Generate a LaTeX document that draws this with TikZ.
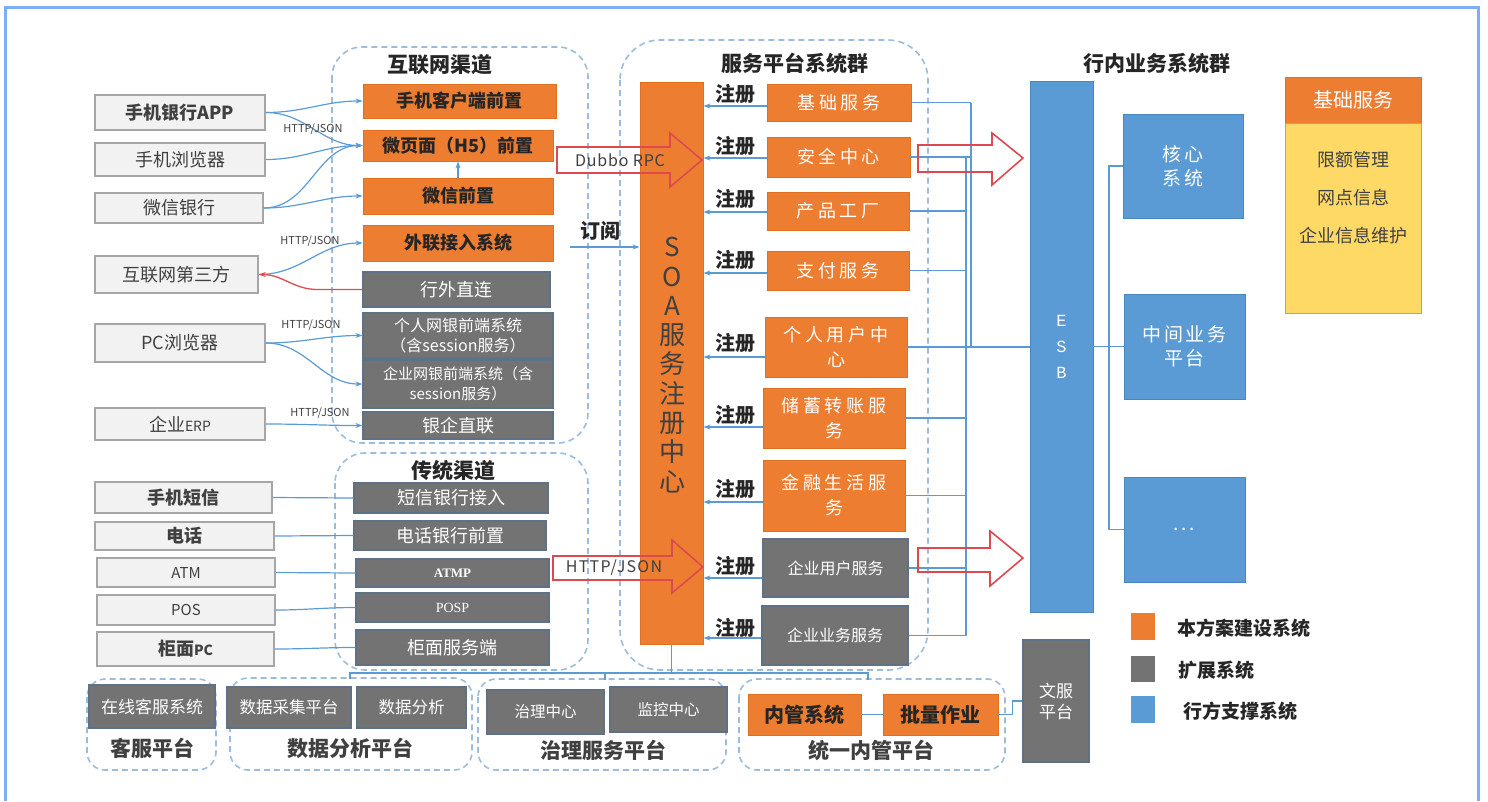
\documentclass[tikz,border=0pt]{standalone}
\usepackage{fontspec}
\setmainfont{Noto Sans CJK SC}
\newfontfamily\serifA{Liberation Serif}
\newfontfamily\monoA{Liberation Mono}
\usetikzlibrary{arrows.meta}
\definecolor{cOr}{HTML}{ED7D31}
\definecolor{cOrB}{HTML}{E0701F}
\definecolor{cGr}{HTML}{737373}
\definecolor{cGrB}{HTML}{5E7185}
\definecolor{cBl}{HTML}{5B9BD5}
\definecolor{cBlB}{HTML}{4A87C0}
\definecolor{cYe}{HTML}{FFD966}
\definecolor{cCli}{HTML}{F2F2F2}
\definecolor{cCliB}{HTML}{A6A6A6}
\definecolor{cDash}{HTML}{9CBCDB}
\definecolor{cLn}{HTML}{5B9BD5}
\definecolor{cRed}{HTML}{DC4A50}
\definecolor{cFrame}{HTML}{7DAEF7}
\definecolor{cDark}{HTML}{262626}
\definecolor{cTxt}{HTML}{404040}
\tikzset{
  box/.style={inner sep=0pt, align=center},
  client/.style={box, draw=cCliB, fill=cCli, line width=1.5pt, text=cTxt, font=\fontsize{18}{21}\selectfont},
  orgA/.style={box, fill=cOr, draw=cOrB, line width=0.8pt, text=cDark, font=\bfseries\fontsize{18}{21}\selectfont},
  orgS/.style={box, fill=cOr, draw=cOrB, line width=0.8pt, text=white, font=\fontsize{18}{25}\selectfont\addfontfeature{LetterSpace=20}},
  gry/.style={box, fill=cGr, draw=cGrB, line width=1.2pt, text=white, font=\fontsize{18}{21}\selectfont},
  blu/.style={box, fill=cBl, draw=cBlB, line width=0.8pt, text=white, font=\fontsize{19}{24}\selectfont\addfontfeature{LetterSpace=15}},
  cont/.style={draw=cDash, line width=1.6pt, dash pattern=on 6pt off 4pt},
  conn/.style={draw=cLn, line width=1.2pt, -{Stealth[length=7pt,width=5pt]}},
  ln/.style={draw=cLn, line width=1.2pt},
  bigarr/.style={draw=cRed, line width=1.6pt, line join=miter},
  lab/.style={font=\fontsize{11}{13}\selectfont, text=cTxt, inner sep=0pt},
  zc/.style={font=\bfseries\fontsize{20}{22}\selectfont, text=cDark, inner sep=0pt},
  ttl/.style={font=\bfseries\fontsize{21}{24}\selectfont, text=cDark, inner sep=0pt},
  ptl/.style={font=\bfseries\fontsize{21}{24}\selectfont, text=cTxt, inner sep=0pt},
}
% #1 extra options, #2 style, #3 name, #4..#7 corners (x1,y1,x2,y2), #8 text
\newcommand\mybox[8][]{%
  \pgfmathsetmacro\mybw{#6-#4}\pgfmathsetmacro\mybh{#7-#5}%
  \node[#2, minimum width=\mybw pt, minimum height=\mybh pt, #1] (#3) at ({(#4+#6)/2},{(#5+#7)/2}) {#8};}
\begin{document}
\begin{tikzpicture}[x=1pt,y=-1pt]
\useasboundingbox (0,0) rectangle (1488,801);
% outer frame
\draw[cFrame, line width=3pt] (5,801) -- (5,7) -- (1478,7) -- (1478,801);

% containers
\draw[cont, rounded corners=30pt] (332,47) rectangle (588,443);
\draw[cont, rounded corners=30pt] (335,453) rectangle (588,670);
\draw[cont, rounded corners=40pt] (620,40) rectangle (928,670);
\draw[cont, rounded corners=18pt] (87,679) rectangle (216,770);
\draw[cont, rounded corners=18pt] (230,678) rectangle (472,770);
\draw[cont, rounded corners=18pt] (478,679) rectangle (726,770);
\draw[cont, rounded corners=18pt] (739,679) rectangle (1005,770);

% titles
\node[ttl] (tInet) at (440,65) {互联网渠道};
\node[ttl] (tSvc) at (795,63) {服务平台系统群};
\node[ttl] (tBank) at (1157,63) {行内业务系统群};
\node[ttl] (tTrad) at (453,470) {传统渠道};

% clients
\mybox[font=\bfseries\fontsize{18}{21}\selectfont]{client}{c1}{95}{95}{265}{130}{手机银行APP}
\mybox{client}{c2}{95}{143}{265}{176}{手机浏览器}
\mybox{client}{c3}{95}{193}{263}{223}{微信银行}
\mybox{client}{c4}{95}{256}{258}{293}{互联网第三方}
\mybox{client}{c5}{95}{324}{265}{362}{PC浏览器}
\mybox{client}{c6}{95}{408}{265}{440}{企业{\fontsize{14}{16}\selectfont ERP}}
\mybox[font=\bfseries\fontsize{18}{21}\selectfont]{client}{t1}{95}{482}{272}{513}{手机短信}
\mybox[font=\bfseries\fontsize{18}{21}\selectfont]{client}{t2}{95}{522}{274}{550}{电话}
\mybox[font=\fontsize{15}{18}\selectfont]{client}{t3}{97}{558}{275}{587}{ATM}
\mybox[font=\fontsize{15}{18}\selectfont]{client}{t4}{97}{595}{275}{625}{POS}
\mybox[font=\bfseries\fontsize{18}{21}\selectfont]{client}{t5}{97}{632}{274}{666}{柜面{\fontsize{14}{16}\selectfont PC}}

% internet channel boxes
\mybox{orgA}{i1}{363}{84}{556}{118}{手机客户端前置}
\mybox{orgA}{i2}{363}{130}{553}{161}{微页面（H5）前置}
\mybox{orgA}{i3}{363}{178}{553}{214}{微信前置}
\mybox{orgA}{i4}{363}{225}{553}{261}{外联接入系统}
\mybox{gry}{g1}{363}{272}{550}{307}{行外直连}
\mybox[font=\fontsize{16}{20}\selectfont]{gry}{g2}{363}{313}{553}{358}{个人网银前端系统\\（含session服务）}
\mybox[font=\fontsize{15}{20}\selectfont]{gry}{g3}{363}{360}{553}{408}{企业网银前端系统（含\\session服务）}
\mybox{gry}{g4}{363}{412}{553}{439}{银企直联}

% traditional channel boxes
\mybox{gry}{r1}{354}{483}{548}{513}{短信银行接入}
\mybox{gry}{r2}{354}{521}{546}{550}{电话银行前置}
\mybox[font=\serifA\bfseries\fontsize{13}{15}\selectfont]{gry}{r3}{356}{559}{549}{587}{ATMP}
\mybox[font=\serifA\fontsize{14}{16}\selectfont]{gry}{r4}{356}{593}{549}{622}{POSP}
\mybox{gry}{r5}{356}{630}{549}{665}{柜面服务端}

% SOA
\mybox[fill=cOr, draw=cOrB, line width=0.8pt]{box}{soa}{640}{82}{703}{644}{}
\node[font=\fontsize{26}{29.3}\selectfont, align=center, text=cTxt, inner sep=0pt] (soaT) at (672,365) {S\\O\\A\\服\\务\\注\\册\\中\\心};

% services
\mybox{orgS}{s1}{767}{84}{911}{121}{基础服务}
\mybox{orgS}{s2}{767}{137}{910}{177}{安全中心}
\mybox{orgS}{s3}{767}{192}{909}{230}{产品工厂}
\mybox{orgS}{s4}{767}{251}{909}{290}{支付服务}
\mybox{orgS}{s5}{765}{317}{907}{377}{个人用户中\\心}
\mybox{orgS}{s6}{763}{388}{905}{448}{储蓄转账服\\务}
\mybox{orgS}{s7}{763}{460}{905}{531}{金融生活服\\务}
\mybox[font=\fontsize{16}{19}\selectfont]{gry}{s8}{763}{539}{908}{597}{企业用户服务}
\mybox[font=\fontsize{16}{19}\selectfont]{gry}{s9}{762}{606}{908}{665}{企业业务服务}

% register arrows
\draw[conn] (s1.west |- 0,106) -- (soa.east |- 0,106);
\draw[conn] (s2.west |- 0,158) -- (soa.east |- 0,158);
\draw[conn] (s3.west |- 0,212) -- (soa.east |- 0,212);
\draw[conn] (s4.west |- 0,273) -- (soa.east |- 0,273);
\draw[conn] (s5.west |- 0,357) -- (soa.east |- 0,357);
\draw[conn] (s6.west |- 0,427) -- (soa.east |- 0,427);
\draw[conn] (s7.west |- 0,502) -- (soa.east |- 0,502);
\draw[conn] (s8.west |- 0,578) -- (soa.east |- 0,578);
\draw[conn] (s9.west |- 0,638) -- (soa.east |- 0,638);
\node[zc] (z1) at (735,94) {注册};
\node[zc] (z2) at (735,146) {注册};
\node[zc] (z3) at (735,199) {注册};
\node[zc] (z4) at (735,260) {注册};
\node[zc] (z5) at (735,343) {注册};
\node[zc] (z6) at (735,415) {注册};
\node[zc] (z7) at (735,489) {注册};
\node[zc] (z8) at (735,566) {注册};
\node[zc] (z9) at (735,628) {注册};

% subscribe
\node[zc] (sub) at (600,231) {订阅};
\coordinate (subA) at (570,247);
\draw[conn] (subA) -- (subA -| soa.west);

% ESB and bank systems
\mybox[font=\monoA\fontsize{17}{26}\selectfont]{blu}{esb}{1030}{81}{1093}{612}{E\\S\\B}
\mybox{blu}{k1}{1123}{114}{1243}{218}{核心\\系统}
\mybox{blu}{k2}{1124}{294}{1245}{399}{中间业务\\平台}
\mybox{blu}{k3}{1124}{477}{1245}{582}{...}

% service bus lines
\coordinate (busA) at (971,0);
\coordinate (busB) at (966,0);
\draw[ln] (s1.east) -- (s1.east -| busA);
\draw[ln] (s2.east) -- (s2.east -| busA);
\draw[ln] (s3.east) -- (s3.east -| busB);
\draw[ln] (s4.east) -- (s4.east -| busB);
\draw[ln] (s5.east) -- (s5.east -| esb.west);
\draw[ln] (s6.east) -- (s6.east -| busB);
\draw[ln] (s7.east) -- (s7.east -| busB);
\draw[ln] (s8.east) -- (s8.east -| busB);
\draw[ln] (s9.east) -- (s9.east -| busB);
\draw[ln] (busA |- s1.east) -- (busA |- s5.east);
\draw[ln] (busB |- s2.east) -- (busB |- s9.east);

% ESB to bank systems
\coordinate (busC) at (1109,0);
\draw[ln] (esb.east |- k2.west) -- (k2.west);
\draw[ln] (k1.west) -- (busC |- k1.west) -- (busC |- k3.west) -- (k3.west);

% basic service panel
\mybox[fill=cOr, draw=cOrB, line width=0.8pt, text=white, font=\fontsize{20}{24}\selectfont]{box}{jc}{1285}{77}{1421}{123}{基础服务}
\mybox[fill=cYe, draw=cCliB, line width=1pt]{box}{jcb}{1285}{123}{1421}{313}{}
\node[font=\fontsize{18}{21}\selectfont, text=cTxt, inner sep=0pt] (jc1) at (1353,160) {限额管理};
\node[font=\fontsize{18}{21}\selectfont, text=cTxt, inner sep=0pt] (jc2) at (1353,198) {网点信息};
\node[font=\fontsize{18}{21}\selectfont, text=cTxt, inner sep=0pt] (jc3) at (1353,236) {企业信息维护};

% legend
\mybox[fill=cOr]{box}{lg1}{1131}{613}{1155}{640}{}
\mybox[fill=cGr]{box}{lg2}{1131}{656}{1155}{682}{}
\mybox[fill=cBl]{box}{lg3}{1131}{696}{1155}{723}{}
\node[font=\bfseries\fontsize{19}{22}\selectfont, text=cDark, inner sep=0pt, anchor=west] (lt1) at (1177,628) {本方案建设系统};
\node[font=\bfseries\fontsize{19}{22}\selectfont, text=cDark, inner sep=0pt, anchor=west] (lt2) at (1178,670) {扩展系统};
\node[font=\bfseries\fontsize{19}{22}\selectfont, text=cDark, inner sep=0pt, anchor=west] (lt3) at (1183,711) {行方支撑系统};

% 文服平台
\mybox[font=\fontsize{17}{21}\selectfont]{gry}{wf}{1023}{640}{1089}{762}{文服\\平台}

% bottom platforms
\mybox[font=\fontsize{17}{20}\selectfont]{gry}{b1}{89}{685}{215}{728}{在线客服系统}
\mybox[font=\fontsize{16.5}{20}\selectfont]{gry}{b2}{227}{687}{351}{728}{数据采集平台}
\mybox[font=\fontsize{16.5}{20}\selectfont]{gry}{b3}{357}{687}{466}{728}{数据分析}
\mybox[font=\fontsize{15.5}{19}\selectfont]{gry}{b4}{487}{690}{604}{734}{治理中心}
\mybox[font=\fontsize{15.5}{19}\selectfont]{gry}{b5}{610}{687}{727}{732}{监控中心}
\mybox[font=\bfseries\fontsize{20}{23}\selectfont]{orgA}{b6}{748}{694}{861}{735}{内管系统}
\mybox[font=\bfseries\fontsize{20}{23}\selectfont]{orgA}{b7}{883}{694}{998}{735}{批量作业}
\node[ptl] (p1) at (152,748) {客服平台};
\node[ptl] (p2) at (350,748) {数据分析平台};
\node[ptl] (p3) at (603,750) {治理服务平台};
\node[ptl] (p4) at (871,750) {统一内管平台};

% bottom bus from SOA
\coordinate (d1) at (350,679);
\coordinate (d2) at (605,680);
\coordinate (d3) at (868,680);
\coordinate (hb) at (0,673);
\draw[ln] (soa.south) -- (soa.south |- hb);
\draw[ln] (d1) -- (d1 |- hb) -- (d3 |- hb) -- (d3);
\draw[ln] (d2 |- hb) -- (d2);
\draw[ln] (b6.east) -- (b7.west);
\draw[ln] (b7.east) -- ++(14,0) |- (wf.west);

% internet channel connectors
\draw[conn] (c1.east) to[out=0,in=180] (i1.west);
\draw[conn] (c1.east) to[out=0,in=180] (i2.west);
\draw[conn] (c2.east) to[out=0,in=180] (i2.west);
\draw[conn] (c3.east) to[out=0,in=180] (i2.west);
\draw[conn] (c3.east) to[out=0,in=180] (i3.west);
\draw[conn] (i3.north) -- (i2.south);
\draw[conn] (c4.east) to[out=0,in=180] (i4.west);
\draw[draw=cRed, line width=1.3pt, -{Stealth[length=7pt,width=5pt]}] (g1.west) -- ++(-45,0) to[out=180,in=0] (c4.east);
\draw[conn] (c5.east) to[out=0,in=180] (g2.west);
\draw[conn] (c5.east) to[out=0,in=180] (g3.west);
\draw[conn] (c6.east) to[out=0,in=180] (g4.west);
\node[lab] (h1) at (313,129) {HTTP/JSON};
\node[lab] (h2) at (310,241) {HTTP/JSON};
\node[lab] (h3) at (311,325) {HTTP/JSON};
\node[lab] (h4) at (320,413) {HTTP/JSON};

% traditional connectors
\draw[ln] (t1.east) -- (r1.west);
\draw[ln] (t2.east) -- (r2.west);
\draw[ln] (t3.east) -- (r3.west);
\draw[ln] (t4.east) to[out=0,in=180] (r4.west);
\draw[ln] (t5.east) to[out=0,in=180] (r5.west);

% big hollow arrows
\draw[bigarr] (557,147) -- (670,147) -- (670,133) -- (702,160) -- (670,187) -- (670,173) -- (557,173) -- cycle;
\node[font=\fontsize{16}{18}\selectfont\addfontfeature{LetterSpace=5}, text=cTxt, inner sep=0pt] (dub) at (620,160) {Dubbo RPC};
\draw[bigarr] (553,556) -- (672,556) -- (672,540) -- (703,567) -- (672,593) -- (672,580) -- (553,580) -- cycle;
\node[font=\fontsize{16}{18}\selectfont\addfontfeature{LetterSpace=8}, text=cTxt, inner sep=0pt] (hj) at (614,568) {HTTP/JSON};
\draw[bigarr] (918,145) -- (992,145) -- (992,133) -- (1023,158) -- (992,185) -- (992,172) -- (918,172) -- cycle;
\draw[bigarr] (918,548) -- (990,548) -- (990,531) -- (1023,558) -- (990,586) -- (990,572) -- (918,572) -- cycle;
\end{tikzpicture}
\end{document}
